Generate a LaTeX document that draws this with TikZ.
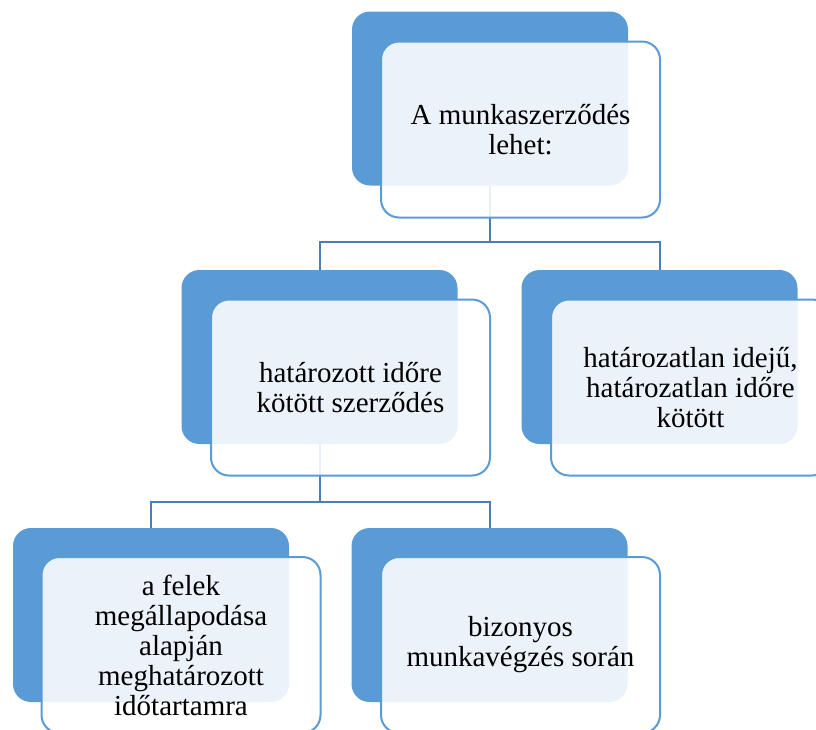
\documentclass[tikz,border=0pt]{standalone}
\usepackage{fontspec}
\setmainfont{Liberation Serif}
\definecolor{accent}{RGB}{91,155,213}
\definecolor{conn}{RGB}{74,126,184}
\begin{document}
\begin{tikzpicture}[x=1pt,y=-1pt,
  backbox/.style={fill=accent,draw=none,rounded corners=18pt,minimum width=276pt,minimum height=174pt,inner sep=0pt},
  frontbox/.style={fill=white,fill opacity=0.88,text opacity=1,draw=accent,line width=2pt,draw opacity=1,rounded corners=18pt,minimum width=279pt,minimum height=176pt,inner sep=0pt,align=center,font=\fontsize{29}{30}\selectfont},
  connline/.style={draw=conn,line width=2pt}]
\useasboundingbox (0,0) rectangle (816,729);
\clip (0,0) rectangle (816,729);
% back boxes
\node[backbox] (b0) at (490,98.5) {};
\node[backbox] (b1) at (319.5,357) {};
\node[backbox] (b2) at (659.5,357) {};
\node[backbox] (b3) at (151,615) {};
\node[backbox] (b4) at (489.5,615) {};
% connectors
\coordinate (j0) at (489,242);
\coordinate (j1) at (319,502);
\draw[connline] (b0.south) -- (b0.south |- j0);
\draw[connline] (b1.north) |- (j0) -| (b2.north);
\draw[connline] (b1.south) -- (b1.south |- j1);
\draw[connline] (b3.north) |- (j1) -| (b4.north);
% front boxes
\node[frontbox] (f0) at (520.5,129.5) {A munkaszerződés\\lehet:};
\node[frontbox] (f1) at (350.5,387.5) {határozott időre\\kötött szerződés};
\node[frontbox] (f2) at (690.5,387.5) {határozatlan idejű,\\határozatlan időre\\kötött};
\node[frontbox] (f3) at (181,645) {a felek\\megállapodása\\alapján\\meghatározott\\időtartamra};
\node[frontbox] (f4) at (520.5,645) {bizonyos\\munkavégzés során};
\end{tikzpicture}
\end{document}
